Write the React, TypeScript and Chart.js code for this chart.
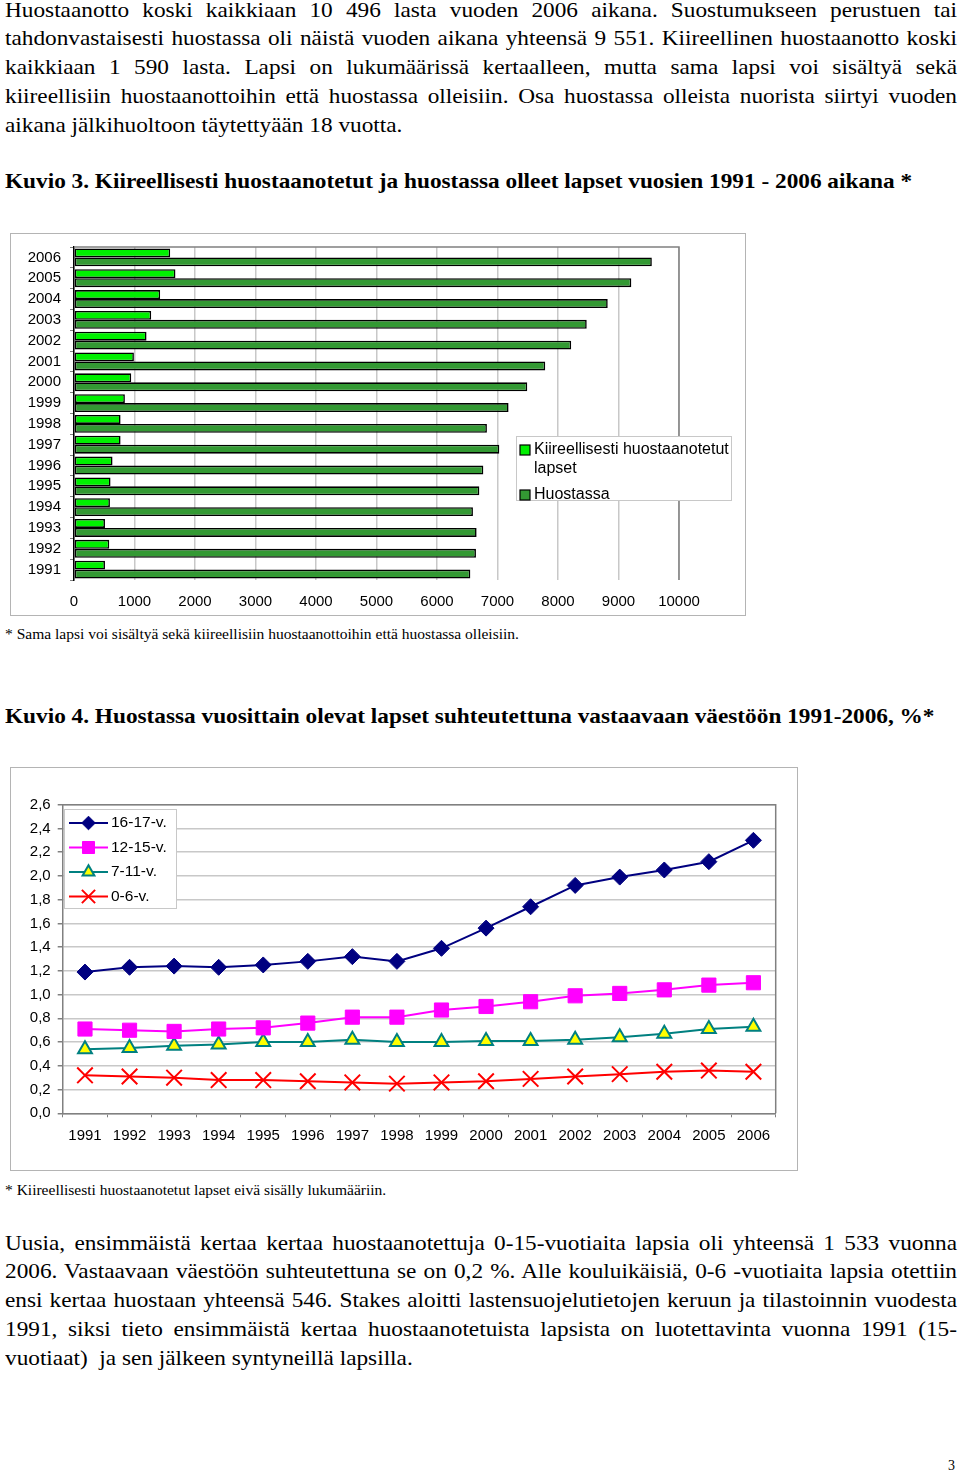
import React, { useEffect, useRef } from 'react';
import { Chart, registerables } from 'chart.js';
import { drawPoint } from 'chart.js/helpers';
Chart.register(...registerables);

// ---------- Data: Kuvio 3 ----------
const barYears = ['2006', '2005', '2004', '2003', '2002', '2001', '2000', '1999', '1998', '1997', '1996', '1995', '1994', '1993', '1992', '1991'];
const urgentValues = [1590, 1677, 1424, 1276, 1199, 990, 946, 841, 770, 770, 637, 604, 594, 512, 583, 512];
const custodyValues = [9551, 9212, 8822, 8475, 8218, 7789, 7492, 7183, 6825, 7030, 6766, 6700, 6594, 6655, 6644, 6551];
const barXTickLabels = ['0', '1000', '2000', '3000', '4000', '5000', '6000', '7000', '8000', '9000', '10000'];
const barSeriesNames = ['Kiireellisesti huostaanotetut lapset', 'Huostassa'];

// ---------- Data: Kuvio 4 ----------
const lineYears = ['1991', '1992', '1993', '1994', '1995', '1996', '1997', '1998', '1999', '2000', '2001', '2002', '2003', '2004', '2005', '2006'];
const age16to17 = [1.19, 1.23, 1.24, 1.23, 1.25, 1.28, 1.32, 1.28, 1.39, 1.56, 1.74, 1.92, 1.99, 2.05, 2.12, 2.30];
const age12to15 = [0.71, 0.70, 0.69, 0.71, 0.72, 0.76, 0.81, 0.81, 0.87, 0.90, 0.94, 0.99, 1.01, 1.04, 1.08, 1.10];
const age7to11 = [0.54, 0.55, 0.57, 0.58, 0.60, 0.60, 0.62, 0.60, 0.60, 0.61, 0.61, 0.62, 0.64, 0.67, 0.71, 0.73];
const age0to6 = [0.32, 0.31, 0.30, 0.28, 0.28, 0.27, 0.26, 0.25, 0.26, 0.27, 0.29, 0.31, 0.33, 0.35, 0.36, 0.35];
const lineSeriesNames = ['16-17-v.', '12-15-v.', '7-11-v.', '0-6-v.'];
const lineYTickLabels = ['0,0', '0,2', '0,4', '0,6', '0,8', '1,0', '1,2', '1,4', '1,6', '1,8', '2,0', '2,2', '2,4', '2,6'];
const lineYTickValues = [0, 0.2, 0.4, 0.6, 0.8, 1.0, 1.2, 1.4, 1.6, 1.8, 2.0, 2.2, 2.4, 2.6];

const SANS = '"Liberation Sans", Arial, sans-serif';
const SERIF = '"Liberation Serif", "Times New Roman", serif';
const STRETCH = 1.108;

const para1 = [
  'Huostaanotto koski kaikkiaan 10 496 lasta vuoden 2006 aikana. Suostumukseen perustuen tai',
  'tahdonvastaisesti huostassa oli näistä vuoden aikana yhteensä 9 551. Kiireellinen huostaanotto koski',
  'kaikkiaan 1 590  lasta. Lapsi on lukumäärissä kertaalleen, mutta sama lapsi voi sisältyä sekä',
  'kiireellisiin huostaanottoihin että huostassa olleisiin. Osa huostassa olleista nuorista siirtyi vuoden',
  'aikana jälkihuoltoon täytettyään 18 vuotta.',
];
const para2 = [
  'Uusia, ensimmäistä kertaa kertaa huostaanotettuja 0-15-vuotiaita lapsia oli yhteensä 1 533 vuonna',
  '2006. Vastaavaan väestöön suhteutettuna se on 0,2 %. Alle kouluikäisiä, 0-6 -vuotiaita lapsia otettiin',
  'ensi kertaa huostaan yhteensä 546. Stakes aloitti lastensuojelutietojen keruun ja tilastoinnin vuodesta',
  '1991, siksi tieto ensimmäistä kertaa huostaanotetuista lapsista on luotettavinta vuonna 1991 (15-',
  'vuotiaat)  ja sen jälkeen syntyneillä lapsilla.',
];

const stretchStyle: React.CSSProperties = { transform: `scaleX(${STRETCH})`, transformOrigin: 'left top' };

function Paragraph({ lines, top }: { lines: string[]; top: number }) {
  return (
    <div style={{ position: 'absolute', left: 5, top, width: 952 / STRETCH, fontFamily: SERIF, fontSize: 21, lineHeight: '28.75px', color: '#000', ...stretchStyle }}>
      {lines.map((l, i) => (
        <div
          key={i}
          style={{
            whiteSpace: i === lines.length - 1 ? 'pre' : 'normal',
            textAlign: i === lines.length - 1 ? 'left' : 'justify',
            textAlignLast: i === lines.length - 1 ? 'left' : 'justify',
          }}
        >
          {l}
        </div>
      ))}
    </div>
  );
}

function TextLine({ text, top, size, bold }: { text: string; top: number; size: number; bold?: boolean }) {
  return (
    <div style={{ position: 'absolute', left: 5, top, fontFamily: SERIF, fontSize: size, lineHeight: size === 21 ? '28.75px' : '16px', fontWeight: bold ? 'bold' : 'normal', whiteSpace: 'pre', ...stretchStyle }}>
      {text}
    </div>
  );
}

function BarChart() {
  const ref = useRef<HTMLCanvasElement>(null);
  useEffect(() => {
    const canvas = ref.current!;
    const framePlugin = {
      id: 'frame',
      beforeDatasetsDraw(chart: any) {
        const { ctx, chartArea: a } = chart;
        ctx.save();
        ctx.strokeStyle = '#808080';
        ctx.lineWidth = 1.5;
        ctx.beginPath();
        ctx.moveTo(a.left, a.top);
        ctx.lineTo(a.right, a.top);
        ctx.lineTo(a.right, a.bottom);
        ctx.stroke();
        ctx.restore();
      },
      afterDraw(chart: any) {
        const ctx = chart.ctx;
        ctx.save();
        const bx = 505, by = 202, bw = 215, bh = 64;
        ctx.fillStyle = '#fff';
        ctx.fillRect(bx, by, bw, bh);
        ctx.strokeStyle = '#c8c8c8';
        ctx.lineWidth = 1;
        ctx.strokeRect(bx + 0.5, by + 0.5, bw, bh);
        const ds = chart.data.datasets;
        ctx.font = `16px ${SANS}`;
        ctx.textBaseline = 'middle';
        const items = [
          { y: 216, lines: ['Kiireellisesti huostaanotetut', 'lapset'] },
          { y: 261, lines: ['Huostassa'] },
        ];
        items.forEach((it, i) => {
          ctx.fillStyle = ds[i].backgroundColor;
          ctx.fillRect(bx + 4, it.y - 5, 10, 10);
          ctx.strokeStyle = '#000';
          ctx.lineWidth = 1.2;
          ctx.strokeRect(bx + 4, it.y - 5, 10, 10);
          ctx.fillStyle = '#000';
          it.lines.forEach((t, j) => ctx.fillText(t, bx + 18, it.y + j * 19));
        });
        ctx.restore();
      },
    };
    const chart = new Chart(canvas, {
      type: 'bar',
      data: {
        labels: barYears,
        datasets: [
          { label: barSeriesNames[0], data: urgentValues, backgroundColor: '#00f000', borderColor: '#000', borderWidth: 1.6, borderSkipped: false, categoryPercentage: 0.86, barPercentage: 1 },
          { label: barSeriesNames[1], data: custodyValues, backgroundColor: '#339933', borderColor: '#000', borderWidth: 1.6, borderSkipped: false, categoryPercentage: 0.86, barPercentage: 1 },
        ],
      },
      options: {
        indexAxis: 'y',
        animation: false,
        responsive: false,
        maintainAspectRatio: false,
        layout: { padding: { left: 0, top: 13, right: 66, bottom: 0 } },
        plugins: { legend: { display: false }, tooltip: { enabled: false } },
        scales: {
          x: {
            min: 0,
            max: 10000,
            ticks: { stepSize: 1000, color: '#000', font: { family: SANS, size: 15 }, padding: 13, callback: (_v: any, i: number) => barXTickLabels[i] },
            grid: { color: '#c8c8c8', lineWidth: 1.5, drawTicks: false },
            border: { display: false },
            afterFit: (s: any) => { s.height = 35; s.paddingLeft = 0; s.paddingRight = 0; },
          },
          y: {
            ticks: { color: '#000', font: { family: SANS, size: 15 }, padding: 9, autoSkip: false },
            grid: { drawOnChartArea: false, tickLength: 4, color: '#808080', offset: true },
            border: { color: '#000', width: 1.5 },
            afterFit: (s: any) => { s.width = 63; s.paddingTop = 0; s.paddingBottom = 0; },
          },
        },
      },
      plugins: [framePlugin],
    } as any);
    return () => chart.destroy();
  }, []);
  return <canvas ref={ref} width={734} height={381} style={{ display: 'block', width: 734, height: 381 }} />;
}

function LineChart() {
  const ref = useRef<HTMLCanvasElement>(null);
  useEffect(() => {
    const canvas = ref.current!;
    const framePlugin = {
      id: 'frame2',
      beforeDatasetsDraw(chart: any) {
        const { ctx, chartArea: a } = chart;
        ctx.save();
        ctx.strokeStyle = '#808080';
        ctx.lineWidth = 1.5;
        ctx.beginPath();
        ctx.moveTo(a.left, a.top);
        ctx.lineTo(a.right, a.top);
        ctx.lineTo(a.right, a.bottom);
        ctx.stroke();
        ctx.restore();
      },
      afterDraw(chart: any) {
        const ctx = chart.ctx;
        ctx.save();
        const bx = 53, by = 41, bw = 112, bh = 99;
        ctx.fillStyle = '#fff';
        ctx.fillRect(bx, by, bw, bh);
        ctx.strokeStyle = '#c8c8c8';
        ctx.lineWidth = 1;
        ctx.strokeRect(bx + 0.5, by + 0.5, bw, bh);
        ctx.font = `15.5px ${SANS}`;
        ctx.textBaseline = 'middle';
        chart.data.datasets.forEach((ds: any, i: number) => {
          const y = 55 + i * 24.5;
          ctx.strokeStyle = ds.borderColor;
          ctx.lineWidth = ds.borderWidth;
          ctx.beginPath();
          ctx.moveTo(bx + 5, y);
          ctx.lineTo(bx + 44, y);
          ctx.stroke();
          ctx.fillStyle = ds.pointBackgroundColor;
          ctx.strokeStyle = ds.pointBorderColor;
          ctx.lineWidth = ds.pointBorderWidth;
          drawPoint(ctx, { pointStyle: ds.pointStyle, rotation: 0, radius: ds.pointRadius * 0.85, borderWidth: ds.pointBorderWidth }, bx + 24.5, y);
          ctx.fillStyle = '#000';
          ctx.fillText(ds.label, bx + 47, y);
        });
        ctx.restore();
      },
    };
    const mk = (label: string, data: number[], color: string, style: string, r: number, fill: string, bw: number) => ({
      label,
      data,
      borderColor: color,
      borderWidth: 2,
      pointStyle: style,
      pointRadius: r,
      pointBackgroundColor: fill,
      pointBorderColor: color,
      pointBorderWidth: bw,
      tension: 0,
      fill: false,
    });
    const chart = new Chart(canvas, {
      type: 'line',
      data: {
        labels: lineYears,
        datasets: [
          mk(lineSeriesNames[0], age16to17, '#000080', 'rectRot', 8, '#000080', 1),
          mk(lineSeriesNames[1], age12to15, '#ff00ff', 'rect', 10, '#ff00ff', 1),
          mk(lineSeriesNames[2], age7to11, '#008080', 'triangle', 8, '#ffff00', 2),
          mk(lineSeriesNames[3], age0to6, '#ff0000', 'crossRot', 11, '#ff0000', 2),
        ],
      },
      options: {
        animation: false,
        responsive: false,
        maintainAspectRatio: false,
        layout: { padding: { left: 0, top: 36.7, right: 21.3, bottom: 0 } },
        plugins: { legend: { display: false }, tooltip: { enabled: false } },
        scales: {
          x: {
            offset: true,
            ticks: { color: '#000', font: { family: SANS, size: 15 }, padding: 10, maxRotation: 0, autoSkip: false },
            grid: { offset: true, drawOnChartArea: false, tickLength: 4, color: '#808080' },
            border: { color: '#808080', width: 1.5 },
            afterFit: (s: any) => { s.height = 56.7; s.paddingLeft = 0; s.paddingRight = 0; },
          },
          y: {
            min: 0,
            max: 2.6,
            afterBuildTicks: (s: any) => { s.ticks = lineYTickValues.map((v) => ({ value: v })); },
            ticks: { color: '#000', font: { family: SANS, size: 15 }, padding: 7, callback: (_v: any, i: number) => lineYTickLabels[i] },
            grid: { color: '#c8c8c8', lineWidth: 1.5, tickLength: 5, tickColor: '#808080' },
            border: { color: '#808080', width: 1.5 },
            afterFit: (s: any) => { s.width = 51.7; s.paddingTop = 0; s.paddingBottom = 0; },
          },
        },
      },
      plugins: [framePlugin],
    } as any);
    return () => chart.destroy();
  }, []);
  return <canvas ref={ref} width={786} height={402} style={{ display: 'block', width: 786, height: 402 }} />;
}

export default function App() {
  return (
    <div style={{ position: 'absolute', left: 0, top: 0, width: 960, height: 1475, overflow: 'hidden', background: '#fff', color: '#000' }}>
      <Paragraph lines={para1} top={-4.5} />
      <TextLine text="Kuvio 3. Kiireellisesti huostaanotetut ja huostassa olleet lapset vuosien 1991 - 2006 aikana *" top={167} size={21} bold />
      <div style={{ position: 'absolute', left: 10, top: 233, border: '1px solid #b4b4b4', background: '#fff' }}>
        <BarChart />
      </div>
      <TextLine text="* Sama lapsi voi sisältyä sekä kiireellisiin huostaanottoihin että huostassa olleisiin." top={626.5} size={14} />
      <TextLine text="Kuvio 4. Huostassa vuosittain olevat lapset suhteutettuna vastaavaan väestöön 1991-2006, %*" top={701.5} size={21} bold />
      <div style={{ position: 'absolute', left: 10, top: 767, border: '1px solid #b4b4b4', background: '#fff' }}>
        <LineChart />
      </div>
      <TextLine text="* Kiireellisesti huostaanotetut lapset eivä sisälly lukumääriin." top={1182.5} size={14} />
      <Paragraph lines={para2} top={1228.5} />
      <div style={{ position: 'absolute', left: 948, top: 1458, fontFamily: SERIF, fontSize: 14, lineHeight: '16px' }}>3</div>
    </div>
  );
}
